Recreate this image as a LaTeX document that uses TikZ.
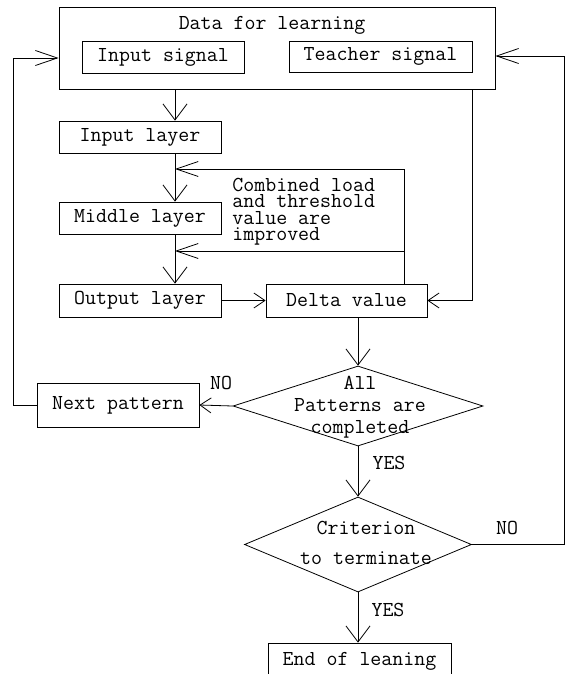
\documentclass[tikz,border=0pt]{standalone}
\usetikzlibrary{shapes.geometric,arrows.meta}

\tikzset{
  box/.style={draw, minimum width=162pt, minimum height=32pt, inner sep=0pt},
  decision/.style={draw, diamond, inner sep=0pt},
  vhead/.style={-{Straight Barb[length=16pt,width=24pt]}},
  hhead/.style={-{Straight Barb[length=11pt,width=15pt]}},
  longhead/.style={-{Straight Barb[length=22pt,width=15pt]}},
}

\begin{document}
\begin{tikzpicture}[x=1pt,y=-1pt,line width=0.8pt,font=\ttfamily\fontsize{21.3}{22}\selectfont]
\clip (0,0) rectangle (570,674);
% data for learning
\node[draw,minimum width=436pt,minimum height=82pt] (data) at (277,48) {};
\node[anchor=base] (datatitle) at (272,30) {Data for learning};
\node[box] (insig) at (163,57) {Input signal};
\node[box,minimum width=183pt,minimum height=31pt] (teach) at (380.5,56.5) {Teacher signal};
% layers
\node[box] (inlayer) at (140,137) {Input layer};
\node[box] (midlayer) at (140,218) {Middle layer};
\node[box,minimum height=33pt] (outlayer) at (140,300.5) {Output layer};
\node[box,minimum width=161pt,minimum height=33pt] (delta) at (346.5,300.5) {Delta value};
\node[anchor=north west,inner sep=0pt,align=left,font=\ttfamily\fontsize{21.3}{16.3}\selectfont] (improve) at (232,178) {Combined load\\and threshold\\value are\\improved};
% decisions
\node[decision,minimum width=250pt,minimum height=80pt] (pat) at (358,406) {};
\node[align=center,font=\ttfamily\fontsize{21.3}{22}\selectfont] (patlab) at (360,407) {All\\Patterns are\\completed};
\node[decision,minimum width=227pt,minimum height=95pt] (crit) at (358,544.5) {};
\node[align=center,font=\ttfamily\fontsize{21.3}{30}\selectfont] (critlab) at (366,543) {Criterion\\to terminate};
\node[box,minimum height=44pt] (next) at (118,405) {Next pattern};
\node[box,minimum width=183pt,minimum height=36pt] (finish) at (359.5,661) {End of leaning};
% labels
\node (no1) at (221,383) {NO};
\node (yes1) at (389,463) {YES};
\node (no2) at (507,528) {NO};
\node (yes2) at (388,610) {YES};
% turning points
\coordinate (spine) at (175,0);
\coordinate (fbtop) at (404,169);
\coordinate (fbmid) at (404,251);
\coordinate (lret) at (13,58);
\coordinate (rret) at (564,56);
% connectors
\draw[vhead] (spine |- data.south) -- (spine |- inlayer.north);
\draw[vhead] (spine |- inlayer.south) -- (spine |- midlayer.north);
\draw[vhead] (spine |- midlayer.south) -- (spine |- outlayer.north);
\draw[longhead] (delta.north -| fbtop) -- (fbtop) -- (spine |- fbtop);
\draw[longhead] (fbmid) -- (spine |- fbmid);
\draw[hhead] (outlayer.east) -- (delta.west);
\draw[hhead] (teach.east |- data.south) -- (teach.east |- delta.east) -- (delta.east);
\draw[vhead] (delta.south -| pat.north) -- (pat.north);
\draw[hhead] (pat.west) -- (next.east);
\draw[longhead] (next.west) -- (next.west -| lret) -- (lret) -- (lret -| data.west);
\draw[vhead] (pat.south) -- (crit.north);
\draw[longhead] (crit.east) -- (crit.east -| rret) -- (rret) -- (rret -| data.east);
\draw[vhead] (crit.south) -- (crit.south |- finish.north);
\end{tikzpicture}
\end{document}
